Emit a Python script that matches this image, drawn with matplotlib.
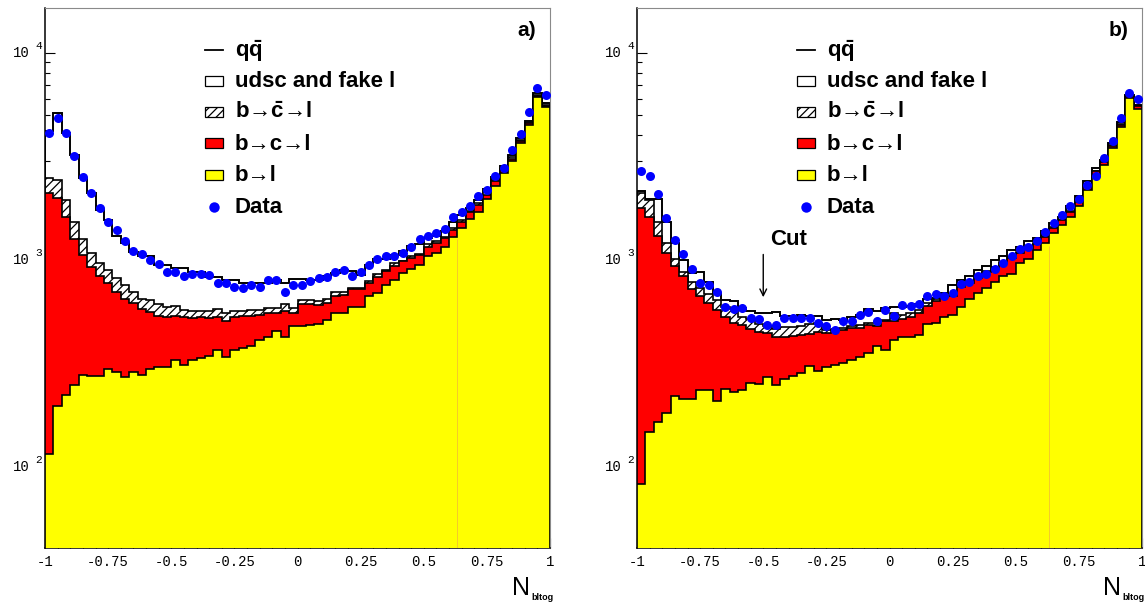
import numpy as np
import matplotlib
matplotlib.use('Agg')
import matplotlib.pyplot as plt
from matplotlib.patches import Rectangle
from matplotlib.lines import Line2D
from matplotlib.ticker import LogLocator, NullFormatter, MultipleLocator
import matplotlib.transforms as mtransforms

plt.rcParams['font.family'] = 'Liberation Sans'
plt.rcParams['mathtext.fontset'] = 'custom'
plt.rcParams['mathtext.rm'] = 'Liberation Sans:bold'
plt.rcParams['mathtext.it'] = 'Liberation Sans:bold'
plt.rcParams['mathtext.bf'] = 'Liberation Sans:bold'
plt.rcParams['hatch.linewidth'] = 0.9

# 60 bins in N_bltog from -1 to 1
edges = np.linspace(-1, 1, 61)

# ---- panel a) : stacked contributions (cumulative tops) and data ----
bl_a = [115, 197, 223, 249, 278, 275, 275, 297, 286, 271,
        286, 278, 297, 305, 305, 327, 311, 327, 335, 344,
        365, 341, 365, 374, 384, 408, 423, 451, 423, 480,
        480, 485, 490, 510, 552, 552, 595, 595, 666, 690,
        757, 800, 862, 901, 946, 1038, 1077, 1160, 1296, 1422,
        1572, 1711, 1963, 2277, 2622, 3000, 3650, 4480, 6100, 5450]
bcl_a = [2100, 1986, 1619, 1258, 1057, 922, 831, 777, 703, 648,
         618, 578, 563, 536, 532, 536, 528, 522, 528, 522,
         532, 509, 528, 536, 536, 542, 552, 552, 569, 552,
         613, 613, 608, 622, 666, 678, 722, 722, 777, 825,
         879, 929, 982, 1019, 1057, 1160, 1205, 1274, 1397, 1531,
         1693, 1845, 2062, 2390, 2702, 3064, 3732, 4560, 6180, 5530]
bcbar_a = [2480, 2433, 1950, 1515, 1258, 1077, 963, 895, 815, 757,
           703, 646, 637, 613, 595, 598, 573, 569, 569, 569,
           578, 552, 569, 569, 573, 573, 585, 585, 613, 585,
           641, 641, 630, 646, 703, 703, 735, 735, 792, 856,
           895, 963, 989, 1038, 1069, 1195, 1227, 1288, 1422, 1560,
           1728, 1890, 2120, 2440, 2760, 3140, 3800, 4600, 6230, 5580]
udsc_a = [4169, 5111, 4093, 3215, 2480, 2100, 1744, 1560, 1306, 1203,
          1097, 1038, 1038, 946, 946, 912, 912, 869, 869, 825,
          825, 800, 800, 777, 777, 771, 777, 800, 777, 807,
          807, 800, 800, 831, 862, 895, 879, 846, 946, 1007,
          1007, 1057, 1109, 1169, 1195, 1274, 1297, 1371, 1531, 1649,
          1778, 1950, 2195, 2506, 2827, 3215, 3873, 4680, 6370, 5700]
data_a = [4090, 4830, 4090, 3160, 2500, 2110, 1770, 1525, 1395, 1238,
          1105, 1068, 1000, 955, 873, 873, 833, 858, 858, 843,
          777, 776, 742, 730, 754, 736, 795, 795, 698, 760,
          757, 789, 815, 822, 869, 895, 840, 872, 946, 1007,
          1045, 1045, 1077, 1160, 1259, 1306, 1346, 1416, 1602, 1700,
          1824, 2023, 2179, 2529, 2774, 3380, 4030, 5170, 6730, 6250]

# ---- panel b) ----
bl_b = [83, 147, 164, 183, 219, 212, 213, 236, 236, 207,
        237, 229, 236, 255, 252, 273, 249, 265, 275, 283,
        307, 292, 305, 311, 317, 329, 341, 354, 384, 368,
        411, 423, 426, 434, 491, 498, 532, 542, 595, 646,
        690, 730, 786, 831, 856, 963, 1007, 1117, 1204, 1346,
        1476, 1619, 1810, 2179, 2575, 2878, 3461, 4372, 6035, 5346]
bcl_b = [1777, 1607, 1297, 1077, 936, 831, 722, 666, 622, 573,
         532, 498, 485, 462, 446, 442, 423, 426, 430, 435,
         439, 446, 442, 456, 459, 468, 468, 485, 481, 504,
         509, 517, 532, 552, 600, 630, 666, 666, 738, 771,
         815, 869, 912, 963, 1019, 1077, 1126, 1195, 1288, 1422,
         1549, 1711, 1913, 2261, 2672, 2952, 3530, 4487, 6150, 5505]
bcbar_b = [2114, 1950, 1531, 1204, 1007, 869, 786, 730, 685, 641,
           590, 578, 532, 517, 491, 477, 462, 474, 474, 477,
           491, 498, 459, 462, 468, 481, 485, 494, 498, 513,
           552, 540, 555, 572, 620, 645, 680, 680, 750, 780,
           825, 880, 925, 975, 1030, 1090, 1140, 1210, 1305, 1440,
           1565, 1730, 1935, 2290, 2700, 2985, 3570, 4520, 6190, 5540]
udsc_b = [2162, 1963, 1963, 1515, 1204, 993, 862, 869, 786, 695,
          641, 630, 585, 569, 552, 552, 563, 536, 536, 542,
          536, 536, 513, 517, 513, 528, 542, 578, 569, 585,
          590, 590, 600, 610, 650, 655, 690, 757, 800, 831,
          895, 936, 993, 1045, 1117, 1160, 1227, 1274, 1371, 1503,
          1619, 1810, 2023, 2390, 2774, 3042, 3664, 4606, 6268, 5611]
data_b = [2672, 2548, 2075, 1588, 1249, 1065, 901, 777, 757, 703,
          590, 578, 585, 522, 517, 485, 485, 522, 522, 522,
          522, 498, 477, 459, 504, 504, 542, 563, 509, 573,
          536, 607, 600, 613, 666, 685, 666, 695, 763, 786,
          837, 856, 908, 963, 1045, 1126, 1151, 1235, 1361, 1504,
          1649, 1810, 1972, 2303, 2553, 3097, 3732, 4831, 6383, 5971]

xtick_vals = [-1, -0.75, -0.5, -0.25, 0, 0.25, 0.5, 0.75, 1]
xtick_text = ['-1', '-0.75', '-0.5', '-0.25', '0', '0.25', '0.5', '0.75', '1']
legend_text = [r'q$\bar{q}$', 'udsc and fake l', r'b→$\bar{c}$→l', 'b→c→l', 'b→l', 'Data']

W, H = 1145, 604
AW, AH = 505, 540      # axes size in pixels
fig = plt.figure(figsize=(W / 100, H / 100), dpi=100)


def frac(dx, dy):
    # pixel offset from the axes' top-left corner -> axes fraction
    return dx / AW, 1 - dy / AH


def draw_panel(ax, bl, bcl, bcbar, udsc, data, tag):
    ax.set_xscale('linear')
    ax.set_yscale('log')
    base = 1.0
    ax.stairs(udsc, edges, baseline=base, fill=True, facecolor='white',
              edgecolor='black', lw=1.4, zorder=1)
    ax.stairs(bcbar, edges, baseline=base, fill=True, facecolor='white',
              edgecolor='black', hatch='////', lw=1.2, zorder=2)
    ax.stairs(bcl, edges, baseline=base, fill=True, facecolor='#ff0000',
              edgecolor='black', lw=1.2, zorder=3)
    ax.stairs(bl, edges, baseline=base, fill=True, facecolor='#ffff00',
              edgecolor='black', lw=1.2, zorder=4)
    # faint bin-edge seam inside the yellow area
    ax.vlines(edges[49], 30, min(bl[48], bl[49]) * 0.97, color='#f2c230',
              lw=0.6, zorder=4.5)

    centers = 0.5 * (edges[:-1] + edges[1:])
    d = np.array(data, dtype=float)
    ax.errorbar(centers, d, yerr=np.sqrt(d), fmt='o', color='#0000ff',
                ms=6.5, mew=0, elinewidth=1.0, capsize=0, zorder=6)

    ax.set_xlim(-1, 1)
    ax.set_ylim(40.6, 16450)

    # axis frame
    for s in ('left', 'bottom'):
        ax.spines[s].set_color('black')
        ax.spines[s].set_linewidth(1.1)
    for s in ('top', 'right'):
        ax.spines[s].set_color('#8a8a8a')
        ax.spines[s].set_linewidth(0.8)

    ax.xaxis.set_major_locator(MultipleLocator(0.25))
    ax.xaxis.set_minor_locator(MultipleLocator(0.05))
    ax.set_xticks(xtick_vals)
    ax.set_xticklabels(xtick_text, family='Liberation Mono', fontsize=10)
    ax.yaxis.set_major_locator(LogLocator(base=10))
    ax.yaxis.set_minor_locator(LogLocator(base=10, subs=np.arange(2, 10)))
    ax.yaxis.set_major_formatter(NullFormatter())
    ax.yaxis.set_minor_formatter(NullFormatter())
    ax.tick_params(which='major', direction='in', length=7.2, width=0.8,
                   top=False, right=False, pad=5)
    ax.tick_params(which='minor', direction='in', length=3.6, width=0.8,
                   top=False, right=False)

    # ROOT style 10^n labels
    tr = mtransforms.blended_transform_factory(ax.transAxes, ax.transData)
    for k in (2, 3, 4):
        ax.text(-15 / AW, 10 ** k, '10', transform=tr, ha='right', va='center',
                family='Liberation Mono', fontsize=10)
        ax.text(-10 / AW, 10 ** (k + 6.5 / 207), str(k), transform=tr,
                ha='left', va='center', family='Liberation Mono', fontsize=8)

    # panel tag
    tx, ty = frac(482, 22)
    ax.text(tx, ty, tag, transform=ax.transAxes, fontsize=15,
            fontweight='bold', ha='center', va='center')

    # legend
    baselines = [48.5, 79, 110, 141.5, 173, 204.5]
    sx0, sx1 = 160, 178
    for i, (lab, b) in enumerate(zip(legend_text, baselines)):
        xt, yt = frac(190, b)
        ax.text(xt, yt, lab, transform=ax.transAxes, fontsize=16,
                fontweight='bold', ha='left', va='baseline', zorder=10)
        cy = b - 6.5
        if i == 0:
            x0, y0 = frac(sx0, cy - 0.5)
            x1, _ = frac(sx1, cy)
            ax.add_line(Line2D([x0, x1], [y0, y0], transform=ax.transAxes,
                               color='black', lw=1.3, clip_on=False, zorder=10))
        elif i == 5:
            x0, y0 = frac((sx0 + sx1) / 2, cy + 1)
            ax.plot([x0], [y0], 'o', transform=ax.transAxes, ms=7.5,
                    color='#0000ff', mew=0, clip_on=False, zorder=10)
        else:
            face = ['white', 'white', '#ff0000', '#ffff00'][i - 1]
            hatch = '////' if i == 2 else None
            x0, y0 = frac(sx0, cy + 5)
            ax.add_patch(Rectangle((x0, y0), (sx1 - sx0) / AW, 10 / AH,
                                   transform=ax.transAxes, facecolor=face,
                                   edgecolor='black', lw=0.9, hatch=hatch,
                                   clip_on=False, zorder=10))


ax_a = fig.add_axes([45 / W, 56 / H, AW / W, AH / H])
ax_b = fig.add_axes([637 / W, 56 / H, AW / W, AH / H])
draw_panel(ax_a, bl_a, bcl_a, bcbar_a, udsc_a, data_a, 'a)')
draw_panel(ax_b, bl_b, bcl_b, bcbar_b, udsc_b, data_b, 'b)')

# cut marker in panel b)
ax_b.annotate('', xy=(-0.5, 640), xytext=(-0.5, 1095),
              arrowprops=dict(arrowstyle='->', color='black', lw=1.0,
                              mutation_scale=12), zorder=9)
ax_b.text(-0.4, 1250, 'Cut', fontsize=16, fontweight='bold',
          ha='center', va='center', zorder=9)

# x axis titles
for xn in (512, 1103):
    fig.text(xn / W, 1 - 595 / H, 'N', fontsize=18, ha='left', va='baseline')
    fig.text((xn + 19.5) / W, 1 - 600.5 / H, 'bltog', fontsize=6.5,
             fontweight='bold', ha='left', va='baseline')

fig.savefig('out.png', dpi=100)
